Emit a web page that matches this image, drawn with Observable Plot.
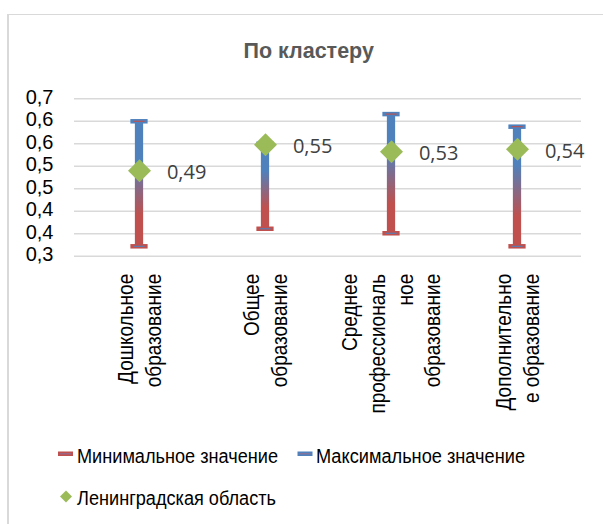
<!DOCTYPE html>
<html>
<head>
<meta charset="utf-8">
<script src="https://cdn.jsdelivr.net/npm/d3@7"></script>
<script src="https://cdn.jsdelivr.net/npm/@observablehq/plot@0.6"></script>
<style>
  html, body { margin: 0; padding: 0; background: #fff; }
  #wrap { position: relative; width: 603px; height: 524px; overflow: hidden; background: #fff; }
  #frame { position: absolute; left: 7.3px; top: 14.3px; right: -10px; bottom: -10px;
           border-left: 2px solid #d9d9d9; border-top: 1.7px solid #d9d9d9; }
  #chart { position: absolute; left: 0; top: 0; }
  #overlay { position: absolute; left: 0; top: 0; }
</style>
</head>
<body>
<div id="wrap">
  <div id="frame"></div>
  <div id="chart"></div>
  <svg id="overlay" width="603" height="524"></svg>
</div>
<script>
// ---- data ----
const categories = ["Дошкольное образование", "Общее образование", "Среднее профессиональное образование", "Дополнительное образование"];
const categoryLabels = ["Дошкольное\nобразование", "Общее\nобразование", "Среднее\nпрофессиональ\nное\nобразование", "Дополнительно\nе образование"];
const minValues = [0.322, 0.361, 0.351, 0.322];      // Минимальное значение
const maxValues = [0.600, 0.550, 0.616, 0.588];      // Максимальное значение
const regionValues = [0.490, 0.548, 0.532, 0.538];   // Ленинградская область
const yTicks = [0.30, 0.35, 0.40, 0.45, 0.50, 0.55, 0.60, 0.65];
const yTickLabels = ["0,3", "0,4", "0,4", "0,5", "0,5", "0,6", "0,6", "0,7"];
const seriesNames = ["Минимальное значение", "Максимальное значение", "Ленинградская область"];
const title = "По кластеру";

const BLUE = "#4f81bd", RED = "#c0504d", GREEN = "#9bbb59";

const data = categories.map((c, i) => ({
  cat: c, label: categoryLabels[i], min: minValues[i], max: maxValues[i], v: regionValues[i]
}));

const W = 603, H = 420;
const mL = 74, mR = 22, mT = 98.3, mB = H - 255.7;
const band = (W - mL - mR) / categories.length;
const barInset = (band - 9) / 2;
const capInset = (band - 18) / 2;
const capInner = (band - 12) / 2;
const labelStretch = 1.16;

const diamond = {
  draw(ctx, size) {
    const r = Math.sqrt(size / Math.PI);
    ctx.moveTo(0, -r); ctx.lineTo(r, 0); ctx.lineTo(0, r); ctx.lineTo(-r, 0); ctx.closePath();
  }
};

const chart = Plot.plot({
  width: W, height: H,
  marginTop: mT, marginBottom: mB, marginLeft: mL, marginRight: mR,
  x: {domain: categories, padding: 0, axis: null},
  y: {domain: [0.30, 0.65], axis: null},
  style: {fontFamily: "'Liberation Sans', Arial, sans-serif", background: "transparent", overflow: "visible", color: "#000"},
  marks: [
    Plot.ruleY(yTicks, {y: d => d, stroke: "#d9d9d9", strokeWidth: 1.6}),
    Plot.text(yTicks, {y: d => d, text: d => yTickLabels[yTicks.indexOf(d)], frameAnchor: "left",
      textAnchor: "end", dx: -21, dy: -1.5, fontSize: 20, fill: "#000"}),
    Plot.barY(data, {x: "cat", y1: "min", y2: "max", fill: "url(#hlgrad)", insetLeft: barInset, insetRight: barInset}),
    Plot.tickY(data, {x: "cat", y: "max", stroke: BLUE, strokeWidth: 4.5, insetLeft: capInset, insetRight: capInset}),
    Plot.tickY(data, {x: "cat", y: "max", stroke: RED, strokeWidth: 1.1, insetLeft: capInner, insetRight: capInner}),
    Plot.tickY(data, {x: "cat", y: "min", stroke: RED, strokeWidth: 4.5, insetLeft: capInset, insetRight: capInset}),
    Plot.tickY(data, {x: "cat", y: "min", stroke: BLUE, strokeWidth: 1.1, insetLeft: capInner, insetRight: capInner}),
    Plot.dot(data, {x: "cat", y: "v", symbol: diamond, r: 11.5, fill: GREEN, stroke: "none"}),
    Plot.text(data, {x: "cat", y: "v", text: d => d.v.toFixed(2).replace(".", ","), textAnchor: "start",
      dx: 27.4, dy: 2, fontSize: 20, fill: "#404040", fontFamily: "'Open Sans', sans-serif"}),
    Plot.text(data, {x: "cat", text: "label", frameAnchor: "bottom", rotate: -90, textAnchor: "end",
      lineAnchor: "middle", lineHeight: 1.25, dy: 17.6, dx: -1.5, fontSize: 19, fill: "#000"})
  ]
});

const ns = "http://www.w3.org/2000/svg";
const defs = document.createElementNS(ns, "defs");
defs.innerHTML = `<linearGradient id="hlgrad" x1="0" y1="0" x2="0" y2="1">
  <stop offset="0" stop-color="${BLUE}"/>
  <stop offset="0.32" stop-color="${BLUE}"/>
  <stop offset="0.76" stop-color="${RED}"/>
  <stop offset="1" stop-color="${RED}"/>
</linearGradient>`;
chart.insertBefore(defs, chart.firstChild);

// narrow-looking category labels: stretch glyph height (local y of rotated text)
const textGroups = chart.querySelectorAll('g[aria-label="text"]');
const xLabelGroup = textGroups[textGroups.length - 1];
if (xLabelGroup) {
  xLabelGroup.querySelectorAll("text").forEach(t => {
    const tr = t.getAttribute("transform") || "";
    t.setAttribute("transform", tr + ` scale(1,${labelStretch})`);
  });
}
document.getElementById("chart").appendChild(chart);

// ---- title & legend ----
const ov = d3.select("#overlay");
ov.append("text").attr("x", 308.7).attr("y", 57.5).attr("text-anchor", "middle")
  .attr("font-family", "'Liberation Sans', Arial, sans-serif").attr("font-weight", "bold")
  .attr("font-size", 21.5).attr("fill", "#595959").text(title);

const lg = ov.append("g").attr("font-family", "'Liberation Sans', Arial, sans-serif").attr("font-size", 20).attr("fill", "#000");
// min
lg.append("rect").attr("x", 58).attr("y", 451.5).attr("width", 15).attr("height", 4.5).attr("fill", RED);
lg.append("rect").attr("x", 60).attr("y", 453.3).attr("width", 11).attr("height", 1).attr("fill", "#8a6f9e");
lg.append("text").attr("x", 77).attr("y", 462.7).attr("textLength", 201).attr("lengthAdjust", "spacingAndGlyphs").text(seriesNames[0]);
// max
lg.append("rect").attr("x", 297.5).attr("y", 451.5).attr("width", 15).attr("height", 4.5).attr("fill", BLUE);
lg.append("rect").attr("x", 299.5).attr("y", 453.3).attr("width", 11).attr("height", 1).attr("fill", "#9a6f8e");
lg.append("text").attr("x", 316).attr("y", 462.7).attr("textLength", 209).attr("lengthAdjust", "spacingAndGlyphs").text(seriesNames[1]);
// region
lg.append("path").attr("d", "M66,490.5L72,496.5L66,502.5L60,496.5Z").attr("fill", GREEN);
lg.append("text").attr("x", 77).attr("y", 505).attr("textLength", 199).attr("lengthAdjust", "spacingAndGlyphs").text(seriesNames[2]);
</script>
</body>
</html>
